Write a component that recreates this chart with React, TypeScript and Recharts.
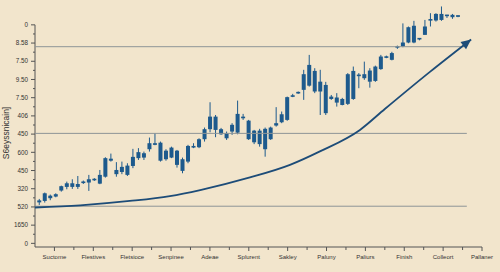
import React from 'react';
import { ComposedChart, Bar, Line, XAxis, YAxis, ReferenceLine } from 'recharts';

// Category tick labels of the visible x axis (positions 0..11)
const xLabels = ['Suctome', 'Flestives', 'Fletsioce', 'Senpinee', 'Adeae', 'Splurent', 'Sakley', 'Paluny', 'Paliurs', 'Finish', 'Colleort', 'Pallaner'];
// Y tick labels for values 0..12 (bottom to top)
const yTickLabels = ['0', '1650', '520', '320', '450', '600', '450', '406', '7.50', '9.50', '7.50', '8.58', '0'];

// Candles
const candleHigh = [2.44, 2.79, 2.68, 2.75, 3.17, 3.39, 3.52, 3.70, 3.45, 3.76, 3.58, 4.03, 4.73, 4.93, 4.46, 4.49, 4.40, 5.19, 5.23, 5.04, 5.81, 6.05, 5.59, 5.17, 5.31, 5.13, 4.71, 5.41, 5.50, 5.77, 6.36, 7.75, 7.05, 6.34, 6.14, 6.60, 7.84, 7.11, 6.78, 6.23, 6.29, 6.36, 6.41, 7.48, 7.24, 8.06, 8.21, 8.34, 9.53, 10.35, 9.62, 9.53, 8.87, 8.15, 8.25, 7.99, 9.35, 9.71, 9.35, 9.98, 9.62, 9.76, 10.35, 10.31, 10.52, 10.86, 12.08, 11.91, 12.22, 11.27, 12.27, 12.64, 12.64, 13.01, 12.55, 12.60, 12.53];
const candleLow = [2.11, 2.24, 2.37, 2.53, 2.84, 2.97, 2.99, 2.99, 3.26, 2.88, 3.43, 3.25, 3.61, 4.49, 3.66, 3.80, 3.70, 4.13, 4.58, 4.58, 5.04, 5.39, 4.49, 4.54, 4.68, 4.16, 3.85, 4.40, 5.23, 5.23, 5.59, 6.10, 5.83, 5.96, 5.68, 5.96, 5.99, 6.78, 5.68, 5.45, 5.31, 4.76, 5.68, 6.41, 6.60, 6.73, 8.03, 8.21, 7.88, 8.61, 8.25, 7.05, 7.05, 7.88, 7.51, 7.58, 7.60, 7.88, 8.52, 8.98, 8.55, 8.87, 9.53, 10.17, 10.05, 10.68, 10.77, 10.99, 10.99, 11.15, 11.45, 11.91, 12.18, 12.22, 12.38, 12.33, 12.42];
const candleOpen = [2.25, 2.33, 2.48, 2.57, 2.90, 3.10, 3.10, 3.10, 3.32, 3.34, 3.47, 3.28, 3.66, 4.54, 3.80, 3.92, 3.76, 4.25, 4.68, 4.71, 5.17, 5.41, 4.54, 4.62, 4.71, 4.31, 3.98, 4.49, 5.26, 5.28, 5.72, 6.27, 6.23, 5.99, 5.77, 6.14, 6.08, 6.87, 5.72, 5.55, 5.45, 5.17, 5.72, 6.47, 6.65, 6.78, 8.06, 8.25, 8.43, 8.66, 8.34, 8.34, 7.15, 7.93, 7.73, 7.60, 7.66, 7.93, 9.20, 9.07, 8.88, 8.92, 9.57, 10.20, 10.08, 10.76, 10.81, 11.03, 11.03, 11.21, 11.45, 12.24, 12.24, 12.27, 12.49, 12.42, 12.46];
const candleClose = [2.36, 2.75, 2.62, 2.70, 3.14, 3.30, 3.30, 3.26, 3.39, 3.52, 3.54, 3.76, 4.68, 4.65, 4.03, 4.20, 4.27, 4.75, 5.01, 4.95, 5.50, 5.50, 5.53, 5.09, 5.26, 5.09, 4.62, 5.35, 5.35, 5.72, 6.27, 6.96, 6.96, 6.27, 6.05, 6.51, 7.11, 6.96, 6.74, 6.19, 6.19, 6.29, 6.36, 6.60, 7.09, 8.03, 8.12, 8.30, 9.29, 9.80, 9.47, 8.88, 8.70, 8.06, 8.01, 7.93, 9.29, 9.47, 9.25, 9.29, 9.49, 9.71, 10.26, 10.26, 10.45, 10.82, 11.03, 11.87, 11.95, 11.27, 11.91, 12.31, 12.60, 12.60, 12.55, 12.55, 12.51];

// Trend curve
const trendX = [-0.5, 0.66, 1.94, 2.97, 3.75, 5.03, 6.06, 6.83, 7.86, 8.5, 9.66, 10.72];
const trendY = [1.97, 2.09, 2.33, 2.6, 2.93, 3.62, 4.31, 5.05, 6.23, 7.38, 9.42, 11.2];

// Horizontal guide levels
const guideLevels = [10.8, 6.04, 2.04];
const guideStart = -0.5;
const guideEnd = 10.61;

const candles = candleHigh.map((h, i) => ({
  high: h,
  low: candleLow[i],
  open: candleOpen[i],
  close: candleClose[i],
}));
const trend = trendX.map((x, i) => ({ x, y: trendY[i] }));

const xTicks: number[] = [];
for (let i = 0; i <= 22; i++) xTicks.push(i / 2);
const yTicks: number[] = [];
for (let i = 0; i <= 24; i++) yTicks.push(i / 2);

const BG = '#f2e5cc';
const CANDLE = '#1d5a8d';
const CURVE = '#1d4c78';
const AXIS = '#555555';
const TEXT = '#333333';
const GUIDE = '#8e9597';
const FONT = '"Liberation Sans", Arial, sans-serif';

const CandleShape = (props: any) => {
  const { x, y, width, height, payload } = props;
  if (!payload || x == null || y == null) return <g />;
  const { open, close, high, low } = payload;
  const top = Math.min(y, y + height);
  const h = Math.abs(height);
  const k = h / (high - low);
  const cx = x + width / 2;
  const bodyTop = top + (high - Math.max(open, close)) * k;
  let bh = Math.abs(open - close) * k;
  let bt = bodyTop;
  if (bh < 1.6) {
    bt = bodyTop - (1.6 - bh) / 2;
    bh = 1.6;
  }
  return (
    <g>
      <line x1={cx} x2={cx} y1={top} y2={top + h} stroke={CANDLE} strokeWidth={1} />
      <rect x={x} y={bt} width={width} height={bh} fill={CANDLE} />
    </g>
  );
};

const XTick = (props: any) => {
  const { x, y, payload } = props;
  const v = payload.value;
  const major = Math.abs(v - Math.round(v)) < 1e-6;
  return (
    <g>
      <line x1={x} x2={x} y1={y} y2={y + (major ? 4 : 3)} stroke={AXIS} strokeWidth={1} />
      {major && (
        <text x={x} y={y + 11.5} textAnchor="middle" fontSize={6} fontFamily={FONT} fill={TEXT}>
          {xLabels[Math.round(v)]}
        </text>
      )}
    </g>
  );
};

const YTick = (props: any) => {
  const { x, y, payload } = props;
  const v = payload.value;
  const major = Math.abs(v - Math.round(v)) < 1e-6;
  return (
    <g>
      <line x1={x - (major ? 4 : 2)} x2={x} y1={y} y2={y} stroke={AXIS} strokeWidth={1} />
      {major && (
        <text x={x - 7} y={y + 2.2} textAnchor="end" fontSize={6.3} fontFamily={FONT} fill={TEXT}>
          {yTickLabels[Math.round(v)]}
        </text>
      )}
    </g>
  );
};

const YLabel = () => (
  <text x={9} y={133} transform="rotate(-90, 9, 133)" textAnchor="middle" fontSize={8.5} fontFamily={FONT} fill={TEXT}>
    S6eyssnicain]
  </text>
);

let prevPt: { x: number; y: number } | null = null;
const ArrowDot = (props: any) => {
  const { cx, cy, index } = props;
  if (index === 0) prevPt = null;
  const last = index === trend.length - 1;
  const p = prevPt;
  prevPt = { x: cx, y: cy };
  if (!last || !p) return <g key={`d${index}`} />;
  const ang = Math.atan2(cy - p.y, cx - p.x);
  const L = 10;
  const W = 4.5;
  const bx = cx - L * Math.cos(ang);
  const by = cy - L * Math.sin(ang);
  const nx = -Math.sin(ang);
  const ny = Math.cos(ang);
  const pts = `${cx},${cy} ${bx + nx * W},${by + ny * W} ${bx - nx * W},${by - ny * W}`;
  return <polygon key={`d${index}`} points={pts} fill={CURVE} />;
};

export default function App() {
  return (
    <div style={{ position: 'absolute', left: 0, top: 0, width: 500, height: 272, background: BG }}>
      <ComposedChart width={500} height={272} data={candles} margin={{ top: 3, right: 18, bottom: 0, left: 0 }}>
        <XAxis
          xAxisId="num"
          type="number"
          dataKey="x"
          domain={[-0.5, 11]}
          ticks={xTicks}
          interval={0}
          height={25}
          tickSize={0}
          tickMargin={0}
          tickLine={false}
          tick={<XTick />}
          axisLine={{ stroke: AXIS, strokeWidth: 1 }}
          allowDataOverflow
        />
        <XAxis xAxisId="cat" type="category" orientation="top" height={0} hide padding={{ left: 1.25, right: 21.5 }} />
        <YAxis
          type="number"
          domain={[-0.2, 13.2]}
          ticks={yTicks}
          interval={0}
          width={35}
          tickSize={0}
          tickMargin={0}
          tickLine={false}
          tick={<YTick />}
          axisLine={false}
          label={<YLabel />}
        />
        <ReferenceLine
          xAxisId="num"
          segment={[{ x: -0.5, y: -0.2 }, { x: -0.5, y: 12 }]}
          stroke={AXIS}
          strokeWidth={1}
          ifOverflow="visible"
        />
        {guideLevels.map((lv, i) => (
          <ReferenceLine
            key={`g${i}`}
            xAxisId="num"
            segment={[{ x: guideStart, y: lv }, { x: guideEnd, y: lv }]}
            stroke={GUIDE}
            strokeWidth={1}
            ifOverflow="visible"
          />
        ))}
        <Bar
          xAxisId="cat"
          dataKey={(d: any) => [d.low, d.high]}
          barSize={4}
          shape={<CandleShape />}
          isAnimationActive={false}
        />
        <Line
          xAxisId="num"
          data={trend}
          dataKey="y"
          type="monotone"
          stroke={CURVE}
          strokeWidth={1.8}
          dot={ArrowDot}
          activeDot={false}
          isAnimationActive={false}
        />
      </ComposedChart>
    </div>
  );
}
